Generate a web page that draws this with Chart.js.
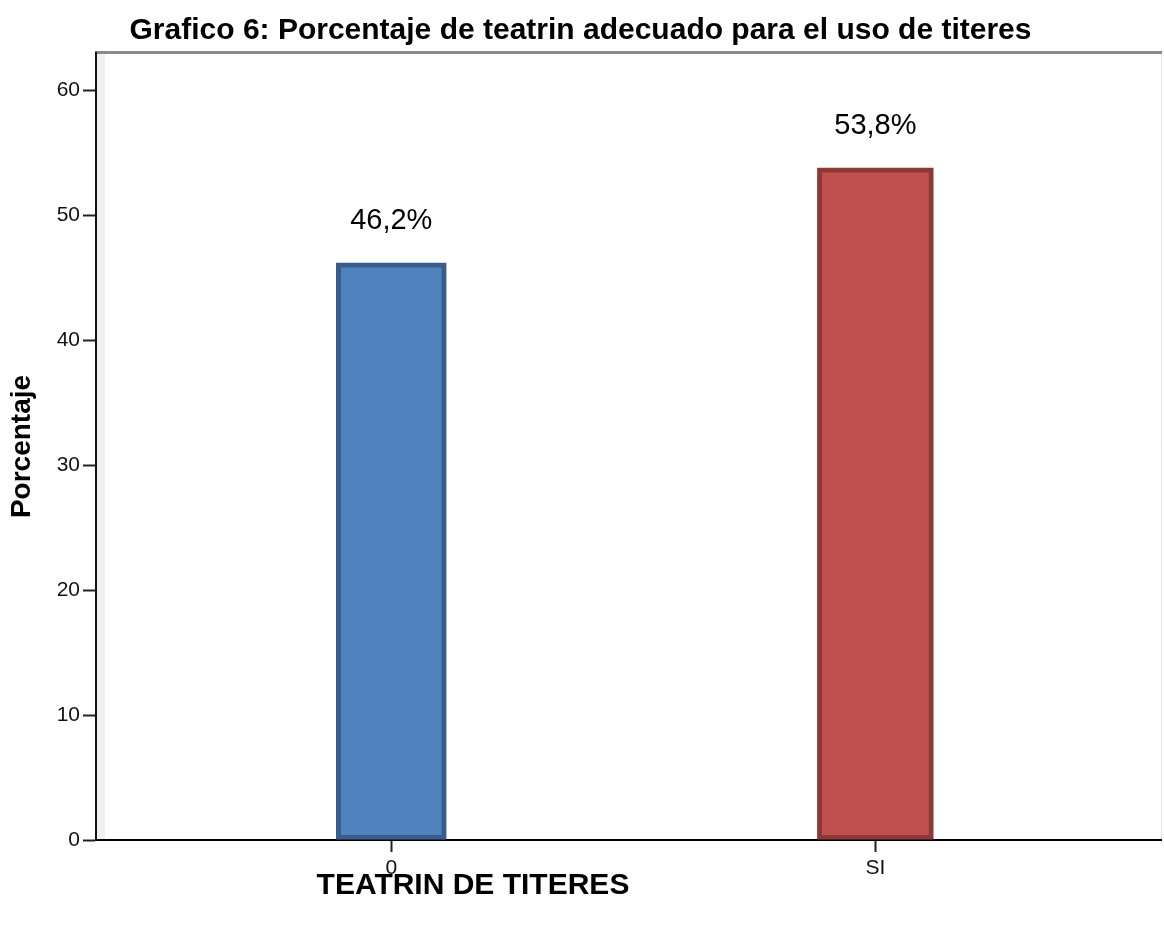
<!DOCTYPE html>
<html>
<head>
<meta charset="utf-8">
<script src="https://cdn.jsdelivr.net/npm/chart.js@4/dist/chart.umd.min.js"></script>
<style>
  html, body { margin: 0; padding: 0; background: #fff; }
  #wrap { width: 1164px; height: 925px; }
</style>
</head>
<body>
<div id="wrap"><canvas id="myChart" width="1164" height="925"></canvas></div>
<script>
// data
var categories = ['0', 'SI'];
var percentages = [46.2, 53.8];
var yTicks = [0, 10, 20, 30, 40, 50, 60];

var fillColors = ['#4f81bd', '#c0504d'];
var edgeColors = ['#385d8a', '#8c3836'];
var barWidths = [110, 116];

var FONT = '"Liberation Sans", Arial, sans-serif';

var frame = {
    id: 'frame',
    beforeDraw: function (chart) {
        var a = chart.chartArea, c = chart.ctx;
        c.save();
        c.fillStyle = '#f0f0f0';
        c.fillRect(a.left, a.top, 9, a.bottom - a.top);
        c.strokeStyle = '#e6e6e6';
        c.lineWidth = 1;
        c.beginPath();
        c.moveTo(a.right + 0.5, a.top);
        c.lineTo(a.right + 0.5, a.bottom);
        c.stroke();
        c.strokeStyle = '#8a8a8a';
        c.lineWidth = 3;
        c.beginPath();
        c.moveTo(a.left - 1, a.top - 0.5);
        c.lineTo(a.right + 1, a.top - 0.5);
        c.stroke();
        c.restore();
    },
    afterDraw: function (chart) {
        var c = chart.ctx;
        c.save();
        // value labels
        c.fillStyle = '#000';
        c.font = '29px ' + FONT;
        c.textAlign = 'center';
        c.textBaseline = 'alphabetic';
        chart.data.datasets.forEach(function (ds, i) {
            var bar = chart.getDatasetMeta(i).data[0];
            var txt = ds.data[0].y.toFixed(1).replace('.', ',') + '%';
            c.fillText(txt, bar.x, bar.y - 34);
        });
        // x axis title
        c.font = 'bold 30px ' + FONT;
        c.textBaseline = 'middle';
        c.fillText('TEATRIN DE TITERES', 473, 886);
        c.restore();
    }
};

var ctx = document.getElementById('myChart');
var myChart = new Chart(ctx, {
    type: 'bar',
    data: {
        datasets: categories.map(function (cat, i) {
            return {
                label: cat,
                data: [{ x: i + 1, y: percentages[i] }],
                backgroundColor: fillColors[i],
                borderColor: edgeColors[i],
                borderWidth: 5,
                borderSkipped: false,
                barThickness: barWidths[i],
                grouped: false
            };
        })
    },
    options: {
        responsive: false,
        animation: false,
        layout: { padding: { left: 0, right: 3, top: 0, bottom: 0 } },
        plugins: {
            legend: { display: false },
            tooltip: { enabled: false },
            title: {
                display: true,
                text: 'Grafico 6: Porcentaje de teatrin adecuado para el uso de titeres',
                color: '#000',
                font: { family: FONT, size: 30, weight: 'bold' },
                padding: { top: 13, bottom: 4 }
            }
        },
        scales: {
            x: {
                type: 'linear',
                offset: false,
                min: 0.39,
                max: 2.59,
                afterBuildTicks: function (scale) {
                    scale.ticks = categories.map(function (c, i) { return { value: i + 1 }; });
                },
                afterFit: function (scale) { scale.height = 85; },
                grid: {
                    display: true,
                    offset: false,
                    drawOnChartArea: false,
                    drawTicks: true,
                    tickLength: 12,
                    tickWidth: 2,
                    tickColor: '#222'
                },
                border: { display: true, color: '#000', width: 2 },
                ticks: {
                    color: '#111',
                    padding: 4,
                    font: { family: FONT, size: 21 },
                    callback: function (v) { return categories[Math.round(v) - 1]; }
                }
            },
            y: {
                min: 0,
                max: 63,
                afterBuildTicks: function (scale) {
                    scale.ticks = yTicks.map(function (t) { return { value: t }; });
                },
                afterFit: function (scale) { scale.width = 96; },
                grid: {
                    display: true,
                    drawOnChartArea: false,
                    drawTicks: true,
                    tickLength: 13,
                    tickWidth: 2,
                    tickColor: '#222'
                },
                border: { display: true, color: '#111', width: 2 },
                ticks: {
                    color: '#111',
                    padding: 3,
                    font: { family: FONT, size: 21 }
                },
                title: {
                    display: true,
                    text: 'Porcentaje',
                    color: '#000',
                    font: { family: FONT, size: 28, weight: 'bold' },
                    padding: { top: 5, bottom: 0 }
                }
            }
        }
    },
    plugins: [frame]
});
</script>
</body>
</html>
